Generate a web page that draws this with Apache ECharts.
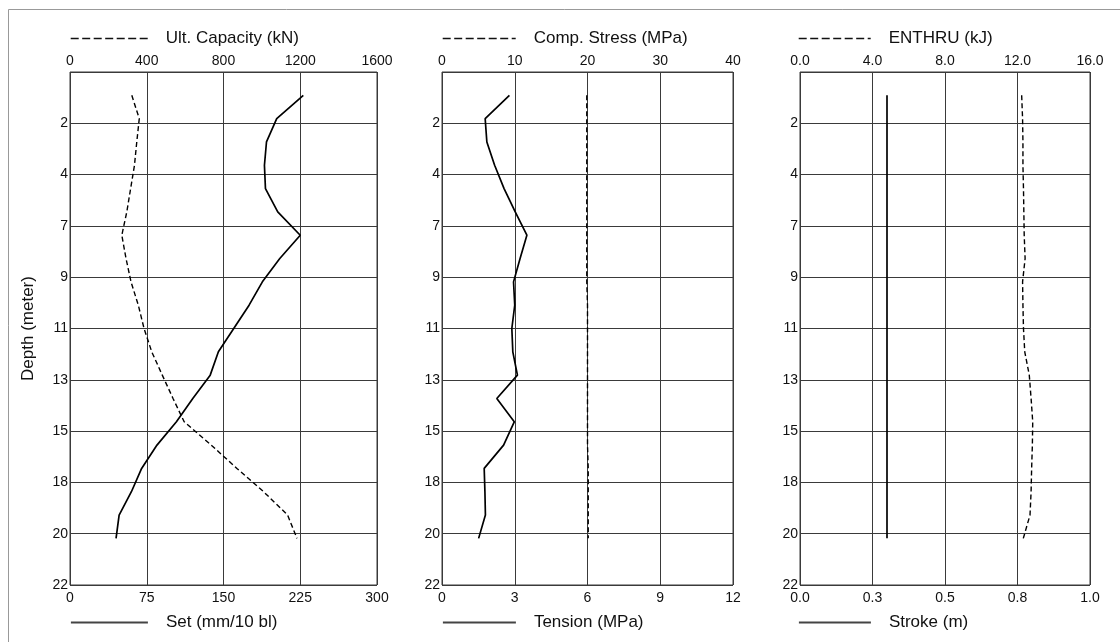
<!DOCTYPE html>
<html>
<head>
<meta charset="utf-8">
<title>Pile driving log</title>
<script src="https://cdn.jsdelivr.net/npm/echarts@6/dist/echarts.min.js"></script>
<style>
  html, body { margin: 0; padding: 0; background: #fff; }
  #chart { width: 1120px; height: 642px; }
</style>
</head>
<body>
<div id="chart"></div>
<script>
// depth of each reading (m)
var depth = [1, 2, 3, 4, 5, 6, 7, 8, 9, 10, 11, 12, 13, 14, 15, 16, 17, 18, 19, 20];

// panel 1
var ultCapacity = [322, 361, 348, 336, 316, 296, 270, 292, 318, 356, 386, 426, 481, 537, 595, 736, 870, 1009, 1134, 1183];
var setPerBlow = [228, 202, 192, 190, 191, 203, 225, 205, 188, 175, 160, 145, 137, 120, 104, 85, 70, 60, 48, 45];
// panel 2
var compStress = [19.9, 19.9, 19.9, 19.9, 19.9, 19.9, 19.9, 19.9, 19.9, 20.0, 20.0, 20.0, 20.0, 20.0, 20.0, 20.0, 20.1, 20.1, 20.1, 20.1];
var tension = [2.78, 1.78, 1.85, 2.17, 2.56, 3.02, 3.5, 3.22, 2.95, 3.0, 2.88, 2.92, 3.11, 2.26, 2.98, 2.54, 1.74, 1.77, 1.79, 1.51];
// panel 3
var enthru = [12.23, 12.28, 12.3, 12.3, 12.33, 12.35, 12.37, 12.42, 12.28, 12.3, 12.33, 12.4, 12.65, 12.75, 12.84, 12.82, 12.78, 12.75, 12.69, 12.32];
var stroke = [0.3, 0.3, 0.3, 0.3, 0.3, 0.3, 0.3, 0.3, 0.3, 0.3, 0.3, 0.3, 0.3, 0.3, 0.3, 0.3, 0.3, 0.3, 0.3, 0.3];

// tick labels
var depthLabels = ["", "2", "4", "7", "9", "11", "13", "15", "18", "20", "22"];
var enthruLabels = ["0.0", "4.0", "8.0", "12.0", "16.0"];
var strokeLabels = ["0.0", "0.3", "0.5", "0.8", "1.0"];

var FONT = "Liberation Sans, Arial, Helvetica, sans-serif";
var INK = "#111";
var GRID_LINE = "#3a3a3a";

var panels = [
  { left: 70, width: 307, top: 72, height: 513 },
  { left: 442, width: 291, top: 72, height: 513 },
  { left: 800, width: 290, top: 72, height: 513 }
];

function pairs(values) {
  var out = [];
  for (var i = 0; i < values.length; i++) {
    out.push([values[i], depth[i]]);
  }
  return out;
}

function xAxisFor(gridIndex, position, max, interval, labels) {
  return {
    type: "value",
    gridIndex: gridIndex,
    position: position,
    min: 0,
    max: max,
    interval: interval,
    axisLine: { show: false },
    axisTick: { show: false },
    axisLabel: {
      color: INK,
      fontSize: 14,
      fontFamily: FONT,
      margin: position === "top" ? 4 : 6,
      formatter: function(v, i) { return labels ? labels[i] : String(v); }
    },
    splitLine: {
      show: position === "top",
      lineStyle: { color: GRID_LINE, width: 1 }
    }
  };
}

function yAxisFor(gridIndex) {
  var axis = {
    type: "value",
    gridIndex: gridIndex,
    inverse: true,
    min: 0,
    max: 22,
    interval: 2.2,
    axisLine: { show: false },
    axisTick: { show: false },
    axisLabel: {
      color: INK,
      fontSize: 14,
      fontFamily: FONT,
      margin: 2,
      formatter: function(v, i) { return depthLabels[i]; }
    },
    splitLine: { lineStyle: { color: GRID_LINE, width: 1 } }
  };
  if (gridIndex === 0) {
    axis.name = "Depth (meter)";
    axis.nameLocation = "middle";
    axis.nameRotate = 90;
    axis.nameGap = 33;
    axis.nameTextStyle = { color: INK, fontSize: 17, fontFamily: FONT };
  }
  return axis;
}

function lineSeries(name, values, axisIndex, yIndex, dashed) {
  return {
    name: name,
    type: "line",
    xAxisIndex: axisIndex,
    yAxisIndex: yIndex,
    symbol: "none",
    silent: true,
    lineStyle: {
      color: "#000",
      width: dashed ? 1.4 : 1.7,
      type: dashed ? [5, 3] : "solid"
    },
    data: pairs(values)
  };
}

function legendFor(name, left, top, iconWidth, dashed) {
  return {
    data: [name],
    left: left,
    top: top,
    padding: 0,
    selectedMode: false,
    itemWidth: iconWidth,
    itemHeight: 14,
    itemStyle: { opacity: 0 },
    lineStyle: {
      color: dashed ? "#111" : "#444",
      width: dashed ? 1.4 : 1.8,
      type: dashed ? [8, 3.5] : "solid"
    },
    textStyle: {
      color: INK,
      fontSize: 17,
      fontFamily: FONT,
      padding: [0, 0, 0, 13]
    }
  };
}

var chart = echarts.init(document.getElementById("chart"));

chart.setOption({
  backgroundColor: "#fff",
  animation: false,
  graphic: [
    {
      type: "polyline",
      silent: true,
      shape: { points: [[8.5, 642], [8.5, 9.5], [1120, 9.5]] },
      style: { stroke: "#999", lineWidth: 1, fill: null }
    }
  ],
  legend: [
    legendFor("Ult. Capacity (kN)", 70, 30, 77, true),
    legendFor("Set (mm/10 bl)", 70, 614, 77, false),
    legendFor("Comp. Stress (MPa)", 442, 30, 73, true),
    legendFor("Tension (MPa)", 442, 614, 73, false),
    legendFor("ENTHRU (kJ)", 798, 30, 72, true),
    legendFor("Stroke (m)", 798, 614, 72, false)
  ],
  grid: panels.map(function(p) {
    return {
      left: p.left,
      width: p.width,
      top: p.top,
      height: p.height,
      show: true,
      borderColor: GRID_LINE,
      borderWidth: 1,
      backgroundColor: "transparent"
    };
  }),
  xAxis: [
    xAxisFor(0, "top", 1600, 400),
    xAxisFor(0, "bottom", 300, 75),
    xAxisFor(1, "top", 40, 10),
    xAxisFor(1, "bottom", 12, 3),
    xAxisFor(2, "top", 16, 4, enthruLabels),
    xAxisFor(2, "bottom", 1, 0.25, strokeLabels)
  ],
  yAxis: [yAxisFor(0), yAxisFor(1), yAxisFor(2)],
  series: [
    lineSeries("Ult. Capacity (kN)", ultCapacity, 0, 0, true),
    lineSeries("Set (mm/10 bl)", setPerBlow, 1, 0, false),
    lineSeries("Comp. Stress (MPa)", compStress, 2, 1, true),
    lineSeries("Tension (MPa)", tension, 3, 1, false),
    lineSeries("ENTHRU (kJ)", enthru, 4, 2, true),
    lineSeries("Stroke (m)", stroke, 5, 2, false)
  ]
});
</script>
</body>
</html>
